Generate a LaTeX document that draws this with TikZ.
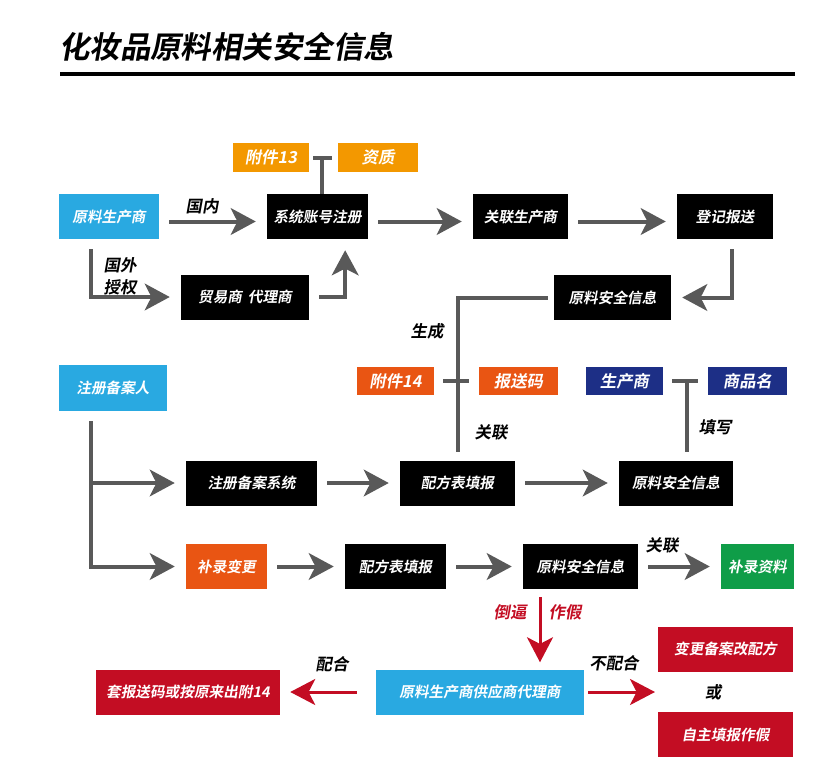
\documentclass[tikz,border=0pt]{standalone}
\usepackage{xcolor}
\usepackage{fontspec}
\usepackage{tikz}
\usetikzlibrary{arrows.meta}
\newfontfamily\cjk[FakeSlant=0.18]{Noto Sans CJK SC Bold}
\definecolor{rawcolor}{HTML}{29A9E1}
\definecolor{annexcolor}{HTML}{F39800}
\definecolor{codecolor}{HTML}{E95513}
\definecolor{namecolor}{HTML}{1D2F86}
\definecolor{addcolor}{HTML}{0F9D48}
\definecolor{fakecolor}{HTML}{C30D23}
\definecolor{linecolor}{HTML}{595959}
\tikzset{
  infobox/.style={rectangle, inner sep=0pt, text=white, minimum height=1.35cm, font=\cjk\fontsize{12.5pt}{14pt}\selectfont},
  tagbox/.style={infobox, minimum height=0.86cm, font=\cjk\fontsize{14pt}{16pt}\selectfont},
  notetext/.style={font=\cjk\fontsize{14pt}{16pt}\selectfont},
  flowline/.style={draw=linecolor, line width=0.12cm},
  flowarrow/.style={flowline, -{Stealth[length=0.75cm, width=0.8cm, inset=0.2cm]}, shorten <=0.3cm, shorten >=0.33cm},
  fakearrow/.style={draw=fakecolor, line width=0.09cm, -{Stealth[length=0.75cm, width=0.78cm, inset=0.2cm]}}
}

\begin{document}
\begin{tikzpicture}[x=0.03cm, y=-0.03cm]%
\useasboundingbox (0,0) rectangle (834,776);%
\node[anchor=west, font=\cjk\fontsize{26pt}{30pt}\selectfont] (title) at (55,47) {化妆品原料相关安全信息};%
\draw[line width=0.12cm] (60,74) -- (795,74);%
\node[infobox, fill=rawcolor, minimum width=3.0cm] (yls) at (109,216.5) {原料生产商};%
\node[infobox, fill=black, minimum width=3.03cm] (zc) at (317.5,216.5) {系统账号注册};%
\node[infobox, fill=black, minimum width=2.85cm] (glsc) at (520.5,216.5) {关联生产商};%
\node[infobox, fill=black, minimum width=2.88cm] (djbs) at (725,216.5) {登记报送};%
\node[infobox, fill=black, minimum width=3.84cm] (mys) at (245,297) {贸易商\hspace{0.4em}代理商};%
\node[infobox, fill=black, minimum width=3.51cm] (aq1) at (612.5,297.5) {原料安全信息};%
\node[tagbox, fill=annexcolor, minimum width=2.28cm] (fj13) at (271,157.5) {附件13};%
\node[tagbox, fill=annexcolor, minimum width=2.4cm] (zz) at (378,157.5) {资质};%
\node[tagbox, fill=codecolor, minimum width=2.31cm] (fj14) at (395.5,381) {附件14};%
\node[tagbox, fill=codecolor, minimum width=2.37cm] (bsm) at (518.5,381) {报送码};%
\node[tagbox, fill=namecolor, minimum width=2.31cm] (scs) at (624.5,381) {生产商};%
\node[tagbox, fill=namecolor, minimum width=2.37cm] (spm) at (747.5,381) {商品名};%
\node[infobox, fill=rawcolor, minimum width=3.24cm, minimum height=1.38cm] (zcbar) at (113,388) {注册备案人};%
\node[infobox, fill=black, minimum width=3.93cm] (zcxt) at (251.5,483) {注册备案系统};%
\node[infobox, fill=black, minimum width=3.45cm] (pf1) at (457.5,483) {配方表填报};%
\node[infobox, fill=black, minimum width=3.42cm] (aq2) at (676,483) {原料安全信息};%
\node[infobox, fill=codecolor, minimum width=2.43cm] (blbg) at (226.5,566.5) {补录变更};%
\node[infobox, fill=black, minimum width=3.03cm] (pf2) at (395.5,566.5) {配方表填报};%
\node[infobox, fill=black, minimum width=3.45cm] (aq3) at (580.5,566.5) {原料安全信息};%
\node[infobox, fill=addcolor, minimum width=2.19cm] (blzl) at (757.5,566.5) {补录资料};%
\node[infobox, fill=rawcolor, minimum width=6.24cm] (gys) at (480,692) {原料生产商供应商代理商};%
\node[infobox, fill=fakecolor, minimum width=4.05cm] (bg) at (725.5,649) {变更备案改配方};%
\node[infobox, fill=fakecolor, minimum width=4.05cm] (zztb) at (725.5,734.5) {自主填报作假};%
\node[infobox, fill=fakecolor, minimum width=5.52cm] (tb) at (188,692) {套报送码或按原来出附14};%
\node[notetext] (gn) at (202,206) {国内};%
\node[notetext] (gw) at (120,265) {国外};%
\node[notetext] (sq) at (120,287) {授权};%
\node[notetext] (sc) at (427,331) {生成};%
\node[notetext] (gl1) at (491,432) {关联};%
\node[notetext] (tx) at (715,427) {填写};%
\node[notetext] (gl2) at (662,545) {关联};%
\node[notetext, text=fakecolor] (db) at (510,612) {倒逼};%
\node[notetext, text=fakecolor] (zj) at (565,612) {作假};%
\node[notetext] (bph) at (614,663) {不配合};%
\node[notetext] (huo) at (713,692) {或};%
\node[notetext] (ph) at (332,664) {配合};%
\coordinate (t13) at (322,157);%
\coordinate (tname) at (687,381);%
\coordinate (trunk) at ([xshift=-0.66cm]zcbar.south);%
\coordinate (choice) at (658,692);%
\draw[flowarrow] ([yshift=-0.15cm]yls.east) -- ([yshift=-0.15cm]zc.west);%
\draw[flowarrow] ([yshift=-0.15cm]zc.east) -- ([yshift=-0.15cm]glsc.west);%
\draw[flowarrow] ([yshift=-0.15cm]glsc.east) -- ([yshift=-0.15cm]djbs.west);%
\draw[flowarrow] ([xshift=-0.54cm]yls.south) |- (mys.west);%
\draw[flowarrow] (mys.east) -| ([xshift=0.83cm]zc.south);%
\draw[flowarrow] ([xshift=0.21cm]djbs.south) |- (aq1.east);%
\draw[flowline, shorten <=0.18cm, shorten >=0.24cm] (aq1.west) -| (pf1.north);%
\draw[flowline, shorten <=0.12cm, shorten >=0.18cm] (fj13.east) -- (zz.west);%
\draw[flowline] (t13) -- (t13 |- zc.north);%
\draw[flowline, shorten <=0.27cm, shorten >=0.3cm] (fj14.east) -- (bsm.west);%
\draw[flowline, shorten <=0.27cm, shorten >=0.3cm] (scs.east) -- (spm.west);%
\draw[flowline, shorten >=0.24cm] (tname) -- (tname |- aq2.north);%
\draw[flowarrow] (trunk) |- (zcxt.west);%
\draw[flowarrow] (trunk) |- (blbg.west);%
\draw[flowarrow] (zcxt) -- (pf1);%
\draw[flowarrow] (pf1) -- (aq2);%
\draw[flowarrow] (blbg) -- (pf2);%
\draw[flowarrow] (pf2) -- (aq3);%
\draw[flowarrow] (aq3) -- (blzl);%
\draw[fakearrow, shorten <=0.24cm, shorten >=0.21cm] ([xshift=-1.215cm]aq3.south) -- ([xshift=-1.215cm]aq3.south |- gys.north);%
\draw[fakearrow, shorten <=0.12cm, shorten >=0.09cm] (gys.east) -- (choice);%
\draw[fakearrow, shorten <=0.57cm, shorten >=0.3cm] (gys.west) -- (tb.east);%
\end{tikzpicture}
\end{document}
